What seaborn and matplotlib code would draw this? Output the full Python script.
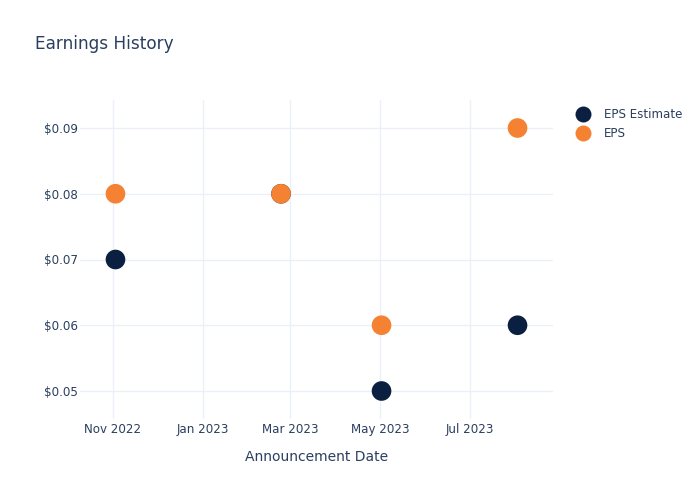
import matplotlib
matplotlib.use("Agg")
import matplotlib.pyplot as plt
import matplotlib.dates as mdates
from matplotlib.ticker import FuncFormatter
import seaborn as sns
import pandas as pd

dates = ["2022-11-03", "2023-02-23", "2023-05-02", "2023-08-02"]
eps_estimate = [0.07, 0.08, 0.05, 0.06]
eps_actual = [0.08, 0.08, 0.06, 0.09]
series_names = ["EPS Estimate", "EPS"]
colors = ["#0B1F41", "#F58232"]

df = pd.DataFrame({
    "date": pd.to_datetime(dates * 2),
    "value": eps_estimate + eps_actual,
    "series": [series_names[0]] * len(dates) + [series_names[1]] * len(dates),
})

sns.set_theme(style="white")
plt.rcParams['font.family'] = ['DejaVu Sans']
text_color = "#2A3F5F"
grid_color = "#EBF0F8"

fig = plt.figure(figsize=(7, 5), dpi=100)
ax = fig.add_axes([80/700, 1-419/500, (553-80)/700, (419-100)/500])

sns.scatterplot(data=df, x="date", y="value", hue="series",
                palette=dict(zip(series_names, colors)), s=200,
                linewidth=0, ax=ax, legend=False, zorder=3)

ax.set_xlim(pd.Timestamp("2022-10-10"), pd.Timestamp("2023-08-26"))
ax.set_ylim(0.04574, 0.09426)
ax.set_yticks([0.05, 0.06, 0.07, 0.08, 0.09])
ax.yaxis.set_major_formatter(FuncFormatter(lambda v, p: f"${v:.2f}"))
ax.xaxis.set_major_locator(mdates.MonthLocator(bymonth=[1, 3, 5, 7, 9, 11]))
ax.xaxis.set_major_formatter(mdates.DateFormatter("%b %Y"))

ax.grid(True, color=grid_color, linewidth=1)
ax.set_axisbelow(True)
for sp in ax.spines.values():
    sp.set_visible(False)
ax.tick_params(axis="both", length=0, labelsize=8.6, colors=text_color)
ax.tick_params(axis="x", pad=3)
ax.tick_params(axis="y", pad=1.5)
ax.set_xlabel("Announcement Date", fontsize=10, color=text_color, labelpad=10)
ax.set_ylabel("")

fig.text(35/700, 1-44/500, "Earnings History", fontsize=12.2, color=text_color,
         va="center", ha="left")

handles = [plt.Line2D([], [], marker="o", linestyle="", markersize=11.5,
                      markerfacecolor=c, markeredgewidth=0) for c in colors]
fig.legend(handles, series_names, loc="upper left",
           bbox_to_anchor=(569/700, 1-103/500), frameon=False,
           fontsize=8.6, labelcolor=text_color, handletextpad=1.05,
           labelspacing=0.52, borderaxespad=0, handlelength=1.5)

fig.savefig("out.png", dpi=100)
